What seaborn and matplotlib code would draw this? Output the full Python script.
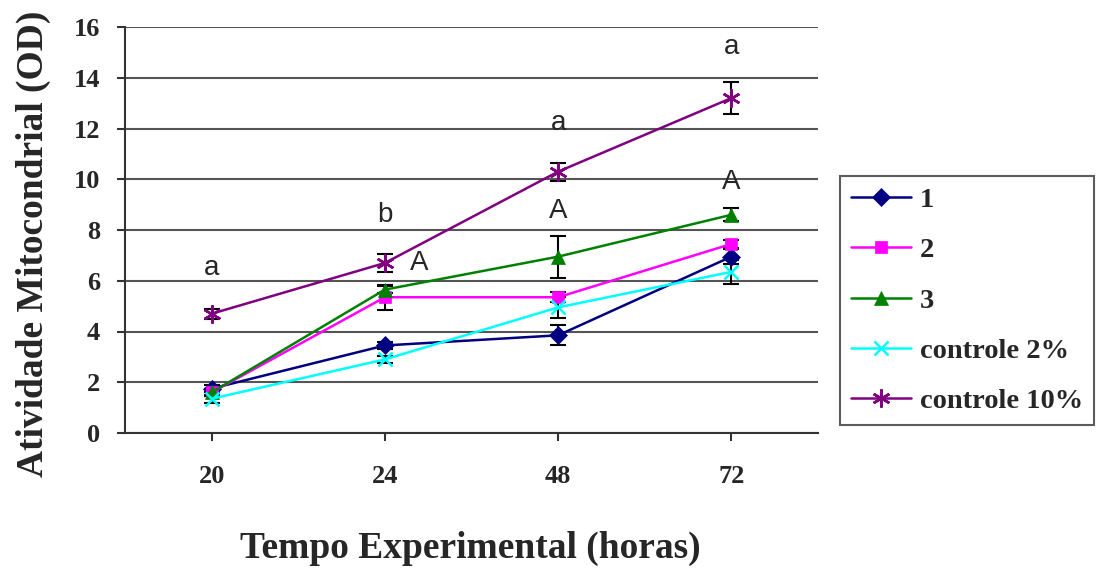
import matplotlib
matplotlib.use("Agg")
import matplotlib.pyplot as plt
import seaborn as sns
import pandas as pd
import numpy as np

tempos = ["20", "24", "48", "72"]
series_names = ["1", "2", "3", "controle 2%", "controle 10%"]
s1 = [1.75, 3.45, 3.85, 6.95]
s2 = [1.6, 5.35, 5.35, 7.45]
s3 = [1.6, 5.65, 6.95, 8.6]
c2 = [1.35, 2.9, 4.95, 6.35]
c10 = [4.7, 6.7, 10.3, 13.2]
e1 = [0.15, 0.15, 0.4, 0.3]
e2 = [0.15, 0.5, 0.2, 0.15]
e3 = [0.15, 0.15, 0.83, 0.25]
ec2 = [0.15, 0.15, 0.4, 0.47]
ec10 = [0.2, 0.35, 0.35, 0.63]
letters = ["a", "b", "A", "a", "A", "a", "A"]
letter_x = [0, 1, 1.2, 2, 2, 3, 3]
letter_y = [6.5, 8.6, 6.7, 12.2, 8.75, 15.2, 9.9]

colors = ["#000080", "#FF00FF", "#008000", "#00FFFF", "#800080"]
markers = ["D", "s", "^", "x", (6, 2, 0)]
msizes = [9, 9, 10, 10, 13]

sns.set_theme(style="white")
plt.rcParams['font.family'] = ['Liberation Serif', 'DejaVu Serif']

vals = [s1, s2, s3, c2, c10]
errs = [e1, e2, e3, ec2, ec10]
rows = []
for name, v, e in zip(series_names, vals, errs):
    for i, t in enumerate(tempos):
        rows.append({"serie": name, "pos": i, "tempo": t, "valor": v[i], "erro": e[i]})
df = pd.DataFrame(rows)

W, H = 1097, 569
fig = plt.figure(figsize=(W/100, H/100), dpi=100)
ax = fig.add_axes([125/W, 1-433/H, (818-125)/W, (433-27)/H])

for name, col, mk, ms in zip(series_names, colors, markers, msizes):
    d = df[df.serie == name]
    ax.errorbar(d["pos"], d["valor"], yerr=d["erro"], fmt="none", ecolor="black",
                elinewidth=1.5, capsize=6, capthick=1.5, zorder=2)
    sns.lineplot(data=d, x="pos", y="valor", ax=ax, color=col, marker=mk,
                 markersize=ms, markeredgecolor=col,
                 markeredgewidth=1.8 if mk in ["x", (6, 2, 0)] else 0.5,
                 linewidth=1.8, label=name, zorder=3, errorbar=None)

for t, x, y in zip(letters, letter_x, letter_y):
    ax.text(x, y, t, ha="center", va="center", fontsize=20, family="Liberation Sans")

ax.set_xlim(-0.5, 3.5)
ax.set_ylim(0, 16)
ax.set_yticks(np.arange(0, 17, 2))
ax.set_xticks(range(len(tempos)))
ax.set_xticklabels(tempos)
ax.yaxis.grid(True, color="#555555", linewidth=1.5)
ax.set_axisbelow(True)
for sp in ["top", "right"]:
    ax.spines[sp].set_visible(False)
for sp in ["left", "bottom"]:
    ax.spines[sp].set_color("#333333")
    ax.spines[sp].set_linewidth(1.5)
ax.tick_params(axis="both", direction="out", length=5.8, width=1.5, color="#333333",
               labelsize=19, left=True, bottom=True)
for lab in ax.get_xticklabels() + ax.get_yticklabels():
    lab.set_fontweight("bold")
ax.tick_params(axis="x", pad=17)
ax.tick_params(axis="y", pad=12)

ax.set_xlabel("")
ax.set_ylabel("")
fig.text(470/W, 1-548/H, "Tempo Experimental (horas)", fontsize=27, fontweight="bold",
         ha="center", va="center")
fig.text(33/W, 1-244/H, "Atividade Mitocondrial (OD)", fontsize=27, fontweight="bold",
         ha="center", va="center", rotation=90)

leg = ax.legend(loc="upper left", bbox_to_anchor=(840/W, 1-176/H), bbox_transform=fig.transFigure,
                frameon=True, fancybox=False, edgecolor="#333333",
                prop={"weight": "bold", "size": 20.5}, labelspacing=0.85, handlelength=2.1,
                borderpad=0.4, handletextpad=0.3, borderaxespad=0)
leg.get_frame().set_linewidth(1.5)

fig.savefig("out.png", dpi=100)
